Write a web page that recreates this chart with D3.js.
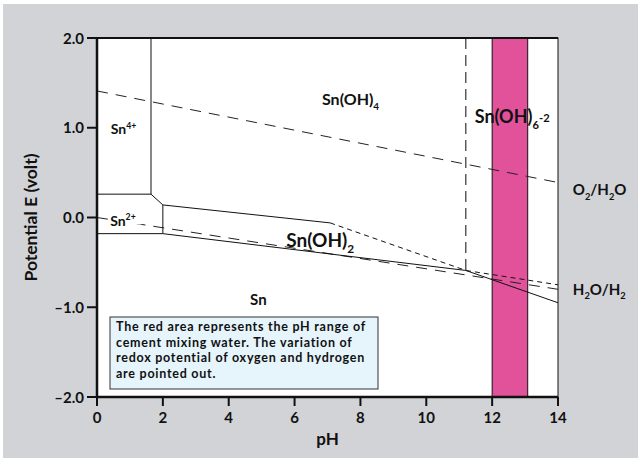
<!DOCTYPE html>
<html>
<head>
<meta charset="utf-8">
<script src="https://cdn.jsdelivr.net/npm/d3@7"></script>
<style>
  body { margin: 0; background: #fff; }
  text { font-family: Lato, "Open Sans", sans-serif; font-weight: bold; fill: #111; }
</style>
</head>
<body>
<svg id="chart"></svg>
<script>
// values: pH on x, potential E (volt) on y
const pHTicks = [0, 2, 4, 6, 8, 10, 12, 14]
const eTicks = [2, 1, 0, -1, -2]
const eTickLabels = ['2.0', '1.0', '0.0', '\u20131.0', '\u20132.0']

// region boundaries, [pH, E]
const sn4Side = [[1.64, 2.0], [1.64, 0.26]]
const sn4Floor = [[0, 0.26], [1.64, 0.26], [2.0, 0.14], [2.0, -0.18]]
const snFloor = [[0, -0.18], [2.0, -0.18], [11.2, -0.59], [14, -0.95]]
const snOH2Top = [[2.0, 0.14], [7.08, -0.06]]
const snOH2TopDashed = [[7.08, -0.06], [11.2, -0.59], [14, -0.75]]
const hexaSide = [[11.2, 2.0], [11.2, -0.6]]
const o2Line = [[0, 1.41], [14, 0.39]]
const h2Line = [[0, 0.0], [14, -0.8]]
const cementRange = [12, 13.08]

const note = [
    'The red area represents the pH range of',
    'cement mixing water. The variation of',
    'redox potential of oxygen and hydrogen',
    'are pointed out.'
]

const W = 641, H = 463
const margin = { top: 38, right: 83, bottom: 66, left: 97 }

const svg = d3.select('#chart')
    .attr('width', W)
    .attr('height', H)

svg.append('rect')
    .attr('x', 3).attr('y', 4)
    .attr('width', 635).attr('height', 454)
    .attr('fill', '#d2d3d7')

const x = d3.scaleLinear().domain([0, 14]).range([margin.left, W - margin.right])
const y = d3.scaleLinear().domain([-2, 2]).range([H - margin.bottom, margin.top])

const line = d3.line().x(d => x(d[0])).y(d => y(d[1]))

svg.append('rect')
    .attr('x', x(0)).attr('y', y(2))
    .attr('width', x(14) - x(0)).attr('height', y(-2) - y(2))
    .attr('fill', '#fff')
    .attr('stroke', '#111')
    .attr('stroke-width', 1)

// cement pH band
svg.append('rect')
    .attr('x', x(cementRange[0])).attr('y', y(2))
    .attr('width', x(cementRange[1]) - x(cementRange[0]))
    .attr('height', y(-2) - y(2))
    .attr('fill', '#e1529b')
    .attr('stroke', '#111')
    .attr('stroke-width', 1)

const g = svg.append('g').attr('fill', 'none')

g.append('path').attr('d', line(o2Line)).attr('stroke', '#222').attr('stroke-dasharray', '11,8')
g.append('path').attr('d', line(h2Line)).attr('stroke', '#222').attr('stroke-dasharray', '11,8')
g.append('path').attr('d', line(hexaSide)).attr('stroke', '#333').attr('stroke-width', 1.2).attr('stroke-dasharray', '11,6')
g.append('path').attr('d', line(snOH2TopDashed)).attr('stroke', '#111').attr('stroke-dasharray', '5,4')

;[sn4Side, sn4Floor, snFloor, snOH2Top].forEach(pts => {
    g.append('path').attr('d', line(pts)).attr('stroke', '#111').attr('stroke-width', 1)
})

// axes: thick left and bottom lines with outward ticks
const ax = svg.append('g')
ax.append('line')
    .attr('x1', x(0)).attr('x2', x(0)).attr('y1', y(2) - 1).attr('y2', y(-2) + 1)
    .attr('stroke', '#111').attr('stroke-width', 2.5)
ax.append('line')
    .attr('x1', x(0)).attr('x2', x(14)).attr('y1', y(-2)).attr('y2', y(-2))
    .attr('stroke', '#111').attr('stroke-width', 2.5)
ax.append('line')
    .attr('x1', x(0)).attr('x2', x(14)).attr('y1', y(2)).attr('y2', y(2))
    .attr('stroke', '#111').attr('stroke-width', 2)

ax.selectAll('.ytick')
    .data(eTicks)
    .join('line')
    .attr('x1', x(0) - 10).attr('x2', x(0))
    .attr('y1', d => y(d)).attr('y2', d => y(d))
    .attr('stroke', '#111').attr('stroke-width', 2)

ax.selectAll('.ylab')
    .data(eTicks)
    .join('text')
    .attr('x', x(0) - 13)
    .attr('y', d => y(d) + 5.5)
    .attr('text-anchor', 'end')
    .attr('font-size', 15)
    .text((d, i) => eTickLabels[i])

ax.selectAll('.xtick')
    .data(pHTicks)
    .join('line')
    .attr('x1', d => x(d)).attr('x2', d => x(d))
    .attr('y1', y(-2)).attr('y2', y(-2) + 9)
    .attr('stroke', '#111').attr('stroke-width', 2)

ax.selectAll('.xlab')
    .data(pHTicks)
    .join('text')
    .attr('x', d => x(d))
    .attr('y', y(-2) + 26)
    .attr('text-anchor', 'middle')
    .attr('font-size', 15)
    .text(d => d)

svg.append('text')
    .attr('x', x(7)).attr('y', 445)
    .attr('text-anchor', 'middle')
    .attr('font-size', 17)
    .text('pH')

svg.append('text')
    .attr('transform', `translate(37,${y(0)}) rotate(-90)`)
    .attr('text-anchor', 'middle')
    .attr('font-size', 17.5)
    .text('Potential E (volt)')

// species labels
function label(px, e, parts, size, anchor) {
    const t = svg.append('text')
        .attr('x', x(px)).attr('y', y(e))
        .attr('font-size', size)
        .attr('text-anchor', anchor || 'start')
    parts.forEach(p => {
        const ts = t.append('tspan').text(p[0])
        if (p[1] === 'sup') ts.attr('font-size', size * 0.62).attr('dy', -size * 0.38)
        if (p[1] === 'sub') ts.attr('font-size', size * 0.62).attr('dy', size * 0.3)
        if (p[1] === 'back') ts.attr('dy', -size * 0.3)
        if (p[1] === 'down') ts.attr('dy', size * 0.38)
    })
    return t
}

svg.append('rect')
    .attr('x', x(0.35)).attr('y', y(0.09))
    .attr('width', 33).attr('height', 15)
    .attr('fill', '#fff')
label(0.4, -0.09, [['Sn'], ['2+', 'sup']], 14)
label(0.42, 0.93, [['Sn'], ['4+', 'sup']], 14)
label(7.7, 1.25, [['Sn(OH)'], ['4', 'sub']], 16, 'middle')
label(11.47, 1.05, [['Sn(OH)'], ['6', 'sub'], ['-2', 'sup'], ['', 'down']], 18)
label(5.75, -0.33, [['Sn(OH)'], ['2', 'sub']], 19)
label(4.9, -0.98, [['Sn']], 15, 'middle')
label(14.45, 0.25, [['O'], ['2', 'sub'], ['/H', 'back'], ['2', 'sub'], ['O', 'back']], 15)
label(14.45, -0.86, [['H'], ['2', 'sub'], ['O/H', 'back'], ['2', 'sub']], 15)

// note box
const nb = svg.append('g')
nb.append('rect')
    .attr('x', 110).attr('y', 317)
    .attr('width', 268).attr('height', 72)
    .attr('fill', '#e6f4fc')
    .attr('stroke', '#333')
    .attr('stroke-width', 1)
nb.selectAll('text')
    .data(note)
    .join('text')
    .attr('x', 116)
    .attr('y', (d, i) => 331 + i * 15.5)
    .attr('font-size', 12.5)
    .attr('letter-spacing', 0.75)
    .text(d => d)
</script>
</body>
</html>
